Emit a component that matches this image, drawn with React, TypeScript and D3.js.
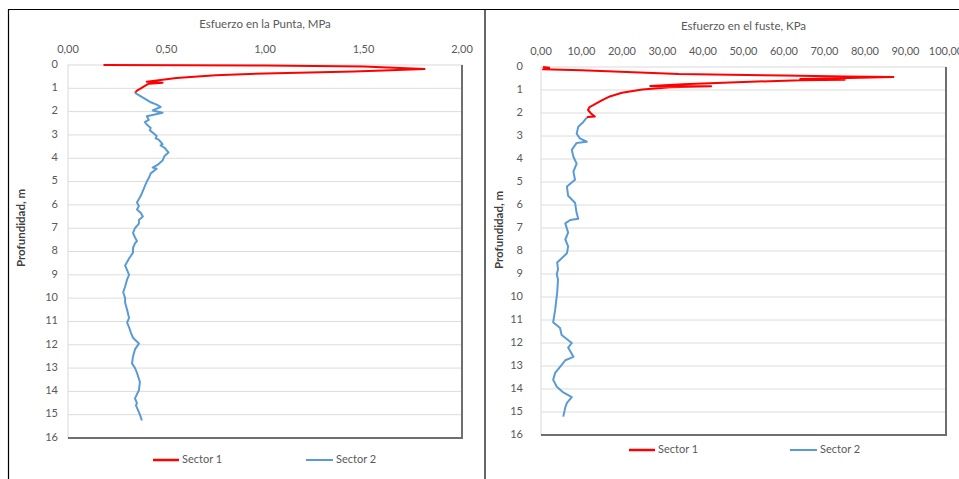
import React from "react";
import * as d3 from "d3";

// ---- Data ----
const seriesNames = ["Sector 1", "Sector 2"];
const depthTicks = d3.range(0, 17);
const puntaTicks = [0, 0.5, 1, 1.5, 2];
const fusteTicks = [0, 10, 20, 30, 40, 50, 60, 70, 80, 90, 100];

// [value, depth]
const puntaSector1: [number, number][] = [
  [0.18, 0.0], [1.0, 0.02], [1.5, 0.06], [1.81, 0.17], [1.6, 0.24], [1.45, 0.28],
  [1.0, 0.36], [0.75, 0.44], [0.55, 0.56], [0.45, 0.66], [0.4, 0.72], [0.48, 0.76], [0.41, 0.8],
  [0.39, 0.9], [0.37, 1.0], [0.35, 1.1], [0.34, 1.2],
];
const puntaSector2: [number, number][] = [
  [0.34, 1.2], [0.37, 1.35], [0.4, 1.5], [0.42, 1.6], [0.45, 1.7], [0.47, 1.8], [0.43, 1.95], [0.48, 2.05],
  [0.4, 2.2], [0.41, 2.35], [0.39, 2.45], [0.4, 2.55], [0.42, 2.7], [0.415, 2.8], [0.43, 2.9], [0.45, 3.05],
  [0.445, 3.15], [0.46, 3.2], [0.48, 3.4], [0.47, 3.45], [0.49, 3.55], [0.51, 3.75], [0.49, 3.9], [0.48, 4.1],
  [0.46, 4.25], [0.43, 4.4], [0.45, 4.45], [0.42, 4.65], [0.41, 4.85], [0.4, 5.0],
  [0.39, 5.2], [0.385, 5.3], [0.38, 5.4], [0.37, 5.6], [0.36, 5.75], [0.35, 5.9], [0.36, 6.05],
  [0.35, 6.2], [0.37, 6.35], [0.38, 6.5], [0.36, 6.65], [0.36, 6.8], [0.34, 7.0],
  [0.33, 7.2], [0.34, 7.4], [0.35, 7.55], [0.34, 7.65], [0.33, 7.85], [0.33, 8.05], [0.31, 8.3],
  [0.3, 8.45], [0.29, 8.6], [0.3, 8.8], [0.31, 9.0], [0.3, 9.2], [0.29, 9.5],
  [0.28, 9.75], [0.29, 10.0], [0.29, 10.2], [0.3, 10.5], [0.31, 10.85], [0.3, 11.05],
  [0.31, 11.25], [0.32, 11.5], [0.33, 11.7], [0.36, 11.95], [0.34, 12.2], [0.33, 12.5],
  [0.325, 12.8], [0.34, 13.0], [0.35, 13.2], [0.365, 13.6], [0.36, 13.95], [0.34, 14.3],
  [0.35, 14.5], [0.345, 14.6], [0.35, 14.7], [0.365, 15.0], [0.375, 15.25],
];
const fusteSector1: [number, number][] = [
  [0.5, 0], [2, 0.03], [2, 0.08], [0.5, 0.1], [10, 0.14], [34, 0.3], [60, 0.37],
  [75, 0.41], [87, 0.44], [76, 0.48], [64, 0.52], [75, 0.55], [64, 0.58], [50, 0.65],
  [35, 0.75], [27, 0.83], [42, 0.84], [32, 0.88], [25, 0.98], [20, 1.12], [17, 1.28], [15, 1.45],
  [13, 1.65], [12, 1.74], [11.6, 1.87], [12.5, 2.05], [13.3, 2.15], [11.6, 2.17], [11.3, 2.2],
];
const fusteSector2: [number, number][] = [
  [11.3, 2.2], [10.4, 2.4], [9.2, 2.6], [8.8, 2.9], [9.6, 3.1], [11.3, 3.25], [8.8, 3.3],
  [7.6, 3.6], [8.0, 3.9], [8.8, 4.2], [8.0, 4.55], [8.4, 4.9], [6.4, 5.2], [6.7, 5.6],
  [8.4, 5.9], [8.8, 6.35], [9.2, 6.6], [7.2, 6.65], [6.0, 6.8], [6.7, 7.2], [6.0, 7.5],
  [6.7, 7.8], [6.4, 8.1], [4.0, 8.5], [4.2, 8.8], [3.9, 9.0], [4.2, 9.25], [4.0, 9.8],
  [3.5, 10.55], [3.0, 11.1], [4.7, 11.35], [5.1, 11.65], [7.6, 12.0], [6.7, 12.2],
  [8.0, 12.6], [6.0, 12.75], [5.1, 12.95], [3.5, 13.3], [3.0, 13.6], [3.9, 13.9],
  [5.5, 14.15], [7.6, 14.35], [6.4, 14.6], [6.0, 14.8], [5.5, 15.2],
];

const FONT = "Lato, 'Open Sans', sans-serif";
const TXT = "#595959";
const fmt = (v: number) => d3.format(".2f")(v).replace(".", ",");

type PanelProps = {
  title: string;
  xMax: number;
  xTicks: number[];
  s1: [number, number][];
  s2: [number, number][];
  left: number; right: number; top: number; bottom: number;
  titleY: number; tickY: number; yLabelX: number; yTitleX: number; yTitleY: number;
  legendY: number; leg1X: number; leg2X: number;
};

function Panel(p: PanelProps) {
  const x = d3.scaleLinear().domain([0, p.xMax]).range([p.left, p.right]);
  const y = d3.scaleLinear().domain([0, 16]).range([p.top, p.bottom]);
  const line = d3.line<[number, number]>().x((d) => x(d[0])).y((d) => y(d[1]));
  return (
    <g fontFamily={FONT} fill={TXT}>
      <text x={(p.left + p.right) / 2} y={p.titleY} textAnchor="middle" fontSize={11.5} dominantBaseline="middle">{p.title}</text>
      {p.xTicks.map((t) => (
        <text key={t} x={x(t)} y={p.tickY} textAnchor="middle" fontSize={11} dominantBaseline="middle">{fmt(t)}</text>
      ))}
      <rect x={p.left} y={p.top} width={p.right - p.left} height={p.bottom - p.top} fill="#fff" stroke="#d9d9d9" strokeWidth={1} />
      {depthTicks.slice(1, 16).map((t) => (
        <line key={t} x1={p.left} x2={p.right} y1={y(t)} y2={y(t)} stroke="#dcdcdc" strokeWidth={1} />
      ))}
      {depthTicks.map((t) => (
        <text key={t} x={p.yLabelX} y={y(t)} textAnchor="end" fontSize={11} dominantBaseline="middle">{t}</text>
      ))}
      <line x1={p.right} x2={p.right} y1={p.top} y2={p.bottom + 1} stroke="#6f6f6f" strokeWidth={2} />
      <line x1={p.left} x2={p.right + 1} y1={p.bottom} y2={p.bottom} stroke="#6f6f6f" strokeWidth={2} />
      <path d={line(p.s1) || ""} fill="none" stroke="#ff0000" strokeWidth={2} strokeLinejoin="round" />
      <path d={line(p.s2) || ""} fill="none" stroke="#5b9bd5" strokeWidth={2} strokeLinejoin="round" />
      <text transform={`translate(${p.yTitleX},${p.yTitleY}) rotate(-90)`} textAnchor="middle" fontSize={11.5} fontWeight="bold" fill="#404040" dominantBaseline="middle">Profundidad, m</text>
      <line x1={p.leg1X} x2={p.leg1X + 26} y1={p.legendY} y2={p.legendY} stroke="#ff0000" strokeWidth={2.5} />
      <text x={p.leg1X + 29} y={p.legendY} fontSize={11} dominantBaseline="middle">{seriesNames[0]}</text>
      <line x1={p.leg2X} x2={p.leg2X + 27} y1={p.legendY} y2={p.legendY} stroke="#5b9bd5" strokeWidth={2} />
      <text x={p.leg2X + 30} y={p.legendY} fontSize={11} dominantBaseline="middle">{seriesNames[1]}</text>
    </g>
  );
}

export default function App() {
  return (
    <svg width={959} height={479} style={{ position: "absolute", left: 0, top: 0, background: "#fff" }}>
      <rect x={0} y={0} width={959} height={479} fill="#fff" />
      <line x1={8.5} x2={8.5} y1={9} y2={479} stroke="#000" strokeWidth={1.2} />
      <line x1={8} x2={959} y1={9.5} y2={9.5} stroke="#000" strokeWidth={1.2} />
      <line x1={485} x2={485} y1={9} y2={479} stroke="#000" strokeWidth={1.2} />
      <Panel title="Esfuerzo en la Punta, MPa" xMax={2} xTicks={puntaTicks} s1={puntaSector1} s2={puntaSector2}
        left={68} right={462} top={65} bottom={438} titleY={25} tickY={50} yLabelX={58} yTitleX={22} yTitleY={228}
        legendY={460} leg1X={153} leg2X={306} />
      <Panel title="Esfuerzo en el fuste, KPa" xMax={100} xTicks={fusteTicks} s1={fusteSector1} s2={fusteSector2}
        left={541} right={946} top={67} bottom={435} titleY={27} tickY={52} yLabelX={523} yTitleX={500} yTitleY={230}
        legendY={450} leg1X={629} leg2X={790} />
    </svg>
  );
}
